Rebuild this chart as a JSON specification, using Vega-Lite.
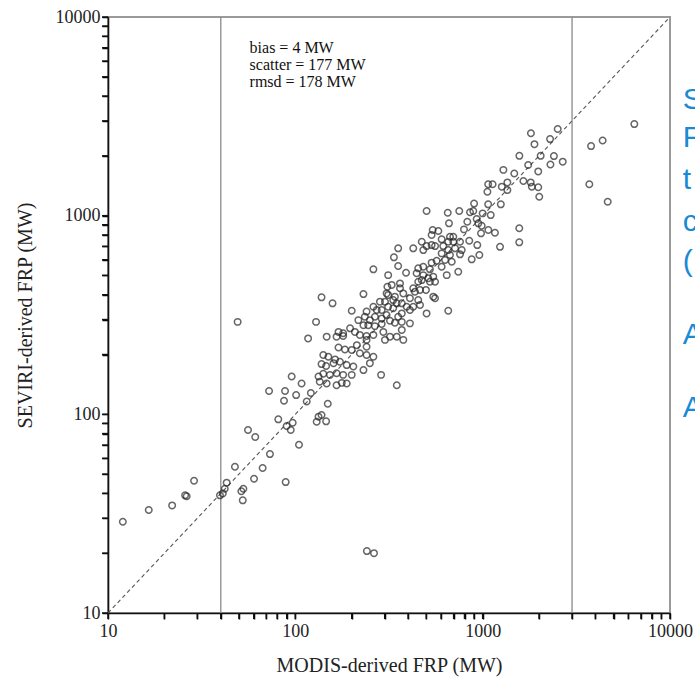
{
  "$schema": "https://vega.github.io/schema/vega-lite/v6.json",
  "width": 562,
  "height": 596,
  "autosize": {"type": "none"},
  "padding": {"left": 108, "top": 17, "right": 25, "bottom": 73},
  "background": "white",
  "config": {
    "view": {"stroke": "#9a9a9a", "strokeWidth": 2},
    "axis": {"grid": false, "labelFont": "Liberation Serif", "titleFont": "Liberation Serif", "labelFontSize": 18, "titleFontSize": 20, "titleFontWeight": "normal", "labelColor": "#222", "titleColor": "#222", "domainColor": "#111", "domainWidth": 1.6, "labelOverlap": false, "labelFlush": false}
  },
  "datasets": {
    "pts": [
      {"x":12,"y":28.8},{"x":16.5,"y":33},{"x":22,"y":34.8},{"x":25.8,"y":39.1},{"x":26.3,"y":38.7},{"x":28.8,"y":46.3},{"x":39.6,"y":39.1},{"x":41,"y":40},{"x":42,"y":42.2},{"x":43,"y":45.3},
      {"x":47.6,"y":54.5},{"x":51.5,"y":41},{"x":52.8,"y":42.2},{"x":52.4,"y":36.9},{"x":60.2,"y":47.4},{"x":66.9,"y":53.7},{"x":73.2,"y":63.1},{"x":55.9,"y":83.4},{"x":61.1,"y":76.9},{"x":88.8,"y":45.6},
      {"x":81.1,"y":94.4},{"x":72.4,"y":131},{"x":88.1,"y":131},{"x":87,"y":117},{"x":101,"y":125},{"x":89.9,"y":87.3},{"x":94.5,"y":83.4},{"x":96.8,"y":90.7},{"x":104.6,"y":70.3},{"x":115,"y":116},
      {"x":121,"y":128},{"x":108,"y":143},{"x":130,"y":91.8},{"x":133,"y":97.3},{"x":138,"y":99.2},{"x":146,"y":92.2},{"x":149,"y":113},{"x":166,"y":140},{"x":177,"y":144},{"x":135,"y":146},
      {"x":241,"y":20.5},{"x":263,"y":20},{"x":49.2,"y":292},
      {"x":6450,"y":2890},{"x":3790,"y":2240},{"x":4370,"y":2390},{"x":3710,"y":1440},{"x":4650,"y":1175},
      {"x":1810,"y":2600},{"x":2515,"y":2730},{"x":2290,"y":2430},{"x":1890,"y":2290},{"x":1570,"y":2000},{"x":2040,"y":2000},{"x":2400,"y":1995},{"x":1750,"y":1800},{"x":2300,"y":1810},{"x":2675,"y":1870},
      {"x":1290,"y":1700},{"x":1475,"y":1630},{"x":1980,"y":1670},{"x":1650,"y":1495},{"x":1070,"y":1440},{"x":1130,"y":1440},{"x":1265,"y":1400},{"x":1355,"y":1470},{"x":1355,"y":1345},{"x":1805,"y":1470},
      {"x":1830,"y":1400},{"x":1980,"y":1390},{"x":1060,"y":1320},{"x":2005,"y":1245},{"x":900,"y":1150},{"x":1070,"y":1140},{"x":1250,"y":1140},{"x":856,"y":1040},{"x":1000,"y":1027},{"x":1104,"y":1007},
      {"x":929,"y":962},{"x":988,"y":890},{"x":1072,"y":847},{"x":1163,"y":820},{"x":980,"y":815},{"x":1568,"y":864},{"x":1568,"y":734},{"x":502,"y":1055},{"x":651,"y":1034},{"x":750,"y":1055},
      {"x":891,"y":1055},{"x":661,"y":915},{"x":828,"y":932},{"x":948,"y":915},{"x":795,"y":853},{"x":541,"y":847},{"x":580,"y":837},{"x":534,"y":799},{"x":669,"y":783},{"x":697,"y":783},
      {"x":604,"y":760},{"x":848,"y":748},{"x":1238,"y":697},{"x":936,"y":711},{"x":473,"y":739},{"x":502,"y":703},{"x":534,"y":711},{"x":426,"y":685},{"x":482,"y":671},{"x":557,"y":703},
      {"x":616,"y":703},{"x":655,"y":739},{"x":697,"y":739},{"x":757,"y":739},{"x":712,"y":685},{"x":773,"y":671},{"x":655,"y":671},{"x":604,"y":646},{"x":669,"y":634},{"x":757,"y":639},
      {"x":354,"y":685},{"x":336,"y":617},{"x":354,"y":558},{"x":874,"y":603},{"x":960,"y":634},{"x":534,"y":580},{"x":568,"y":593},{"x":630,"y":598},{"x":684,"y":586},{"x":482,"y":553},
      {"x":523,"y":537},{"x":604,"y":553},{"x":453,"y":543},{"x":444,"y":513},{"x":482,"y":502},{"x":545,"y":493},{"x":643,"y":502},{"x":741,"y":522},{"x":313,"y":502},{"x":390,"y":516},
      {"x":261,"y":537},{"x":473,"y":474},{"x":513,"y":484},{"x":557,"y":465},{"x":310,"y":439},{"x":327,"y":448},{"x":362,"y":456},{"x":362,"y":431},{"x":313,"y":399},{"x":340,"y":391},
      {"x":231,"y":403},{"x":426,"y":431},{"x":435,"y":414},{"x":463,"y":423},{"x":498,"y":423},{"x":545,"y":391},{"x":283,"y":369},{"x":301,"y":369},{"x":348,"y":362},{"x":370,"y":362},
      {"x":313,"y":348},{"x":333,"y":342},{"x":393,"y":348},{"x":409,"y":335},{"x":289,"y":335},{"x":261,"y":348},{"x":272,"y":335},{"x":240,"y":329},{"x":502,"y":322},{"x":370,"y":322},
      {"x":354,"y":310},{"x":307,"y":316},{"x":289,"y":304},{"x":266,"y":310},{"x":250,"y":298},{"x":235,"y":310},{"x":217,"y":298},{"x":231,"y":281},{"x":245,"y":281},{"x":266,"y":278},
      {"x":289,"y":285},{"x":320,"y":296},{"x":340,"y":289},{"x":200,"y":332},{"x":138,"y":388},{"x":158,"y":362},{"x":129,"y":292},{"x":170,"y":260},{"x":180,"y":256},{"x":196,"y":271},
      {"x":208,"y":260},{"x":221,"y":251},{"x":240,"y":248},{"x":261,"y":251},{"x":295,"y":260},{"x":320,"y":246},{"x":147,"y":246},{"x":117,"y":241},{"x":170,"y":217},{"x":184,"y":212},
      {"x":200,"y":211},{"x":141,"y":199},{"x":150,"y":195},{"x":163,"y":189},{"x":138,"y":179},{"x":146,"y":175},{"x":160,"y":181},{"x":173,"y":184},{"x":188,"y":177},{"x":204,"y":174},
      {"x":133,"y":155},{"x":141,"y":160},{"x":153,"y":158},{"x":166,"y":161},{"x":180,"y":158},{"x":200,"y":158},{"x":95.6,"y":155},{"x":147,"y":143},{"x":213,"y":223},{"x":240,"y":219},
      {"x":221,"y":203},{"x":240,"y":199},{"x":261,"y":195},{"x":250,"y":181},{"x":231,"y":167},{"x":287,"y":158},{"x":348,"y":140},{"x":377,"y":237},{"x":348,"y":246},{"x":370,"y":266},
      {"x":301,"y":237},{"x":240,"y":237},{"x":377,"y":406},{"x":409,"y":384},{"x":453,"y":376},{"x":463,"y":355},{"x":426,"y":348},{"x":655,"y":332},{"x":409,"y":287},{"x":370,"y":292},
      {"x":557,"y":384},{"x":453,"y":465},{"x":523,"y":465},{"x":307,"y":406},{"x":333,"y":376},{"x":188,"y":143},{"x":166,"y":246},{"x":180,"y":248}
    ],
    "tickvals": [
      {"v":10},{"v":20},{"v":30},{"v":40},{"v":50},{"v":60},{"v":70},{"v":80},{"v":90},
      {"v":100},{"v":200},{"v":300},{"v":400},{"v":500},{"v":600},{"v":700},{"v":800},{"v":900},
      {"v":1000},{"v":2000},{"v":3000},{"v":4000},{"v":5000},{"v":6000},{"v":7000},{"v":8000},{"v":9000},{"v":10000}
    ],
    "vlines": [{"x": 40}, {"x": 3000}],
    "diag": [{"x": 10, "y": 10}, {"x": 10000, "y": 10000}],
    "stats": [{"x": 57, "y": 7000, "t": ["bias = 4 MW", "scatter = 177 MW", "rmsd = 178 MW"]}],
    "side": [
      {"x": 11700, "y": 3820, "t": "S"},
      {"x": 11700, "y": 2460, "t": "F"},
      {"x": 11700, "y": 1510, "t": "t"},
      {"x": 11700, "y": 929, "t": "c"},
      {"x": 11700, "y": 585, "t": "("},
      {"x": 11700, "y": 251, "t": "A"},
      {"x": 11700, "y": 108, "t": "A"}
    ]
  },
  "layer": [
    {
      "data": {"name": "vlines"},
      "mark": {"type": "rule", "color": "#8a8a8a", "strokeWidth": 1.3},
      "encoding": {
        "x": {"field": "x", "type": "quantitative", "scale": {"type": "log", "domain": [10, 10000], "nice": false},
          "axis": {"values": [10,20,30,40,50,60,70,80,90,100,200,300,400,500,600,700,800,900,1000,2000,3000,4000,5000,6000,7000,8000,9000,10000],
            "labelExpr": "(datum.value==10||datum.value==100||datum.value==1000||datum.value==10000) ? format(datum.value,'d') : ''",
            "ticks": true, "tickSize": 6, "tickWidth": 1.5, "tickColor": "#000",
            "labelPadding": 3, "title": "MODIS-derived FRP (MW)", "titlePadding": 15}}
      }
    },
    {
      "data": {"name": "diag"},
      "mark": {"type": "line", "color": "#555", "strokeWidth": 1.1, "strokeDash": [4, 3]},
      "encoding": {
        "x": {"field": "x", "type": "quantitative"},
        "y": {"field": "y", "type": "quantitative", "scale": {"type": "log", "domain": [10, 10000], "nice": false},
          "axis": {"values": [10,20,30,40,50,60,70,80,90,100,200,300,400,500,600,700,800,900,1000,2000,3000,4000,5000,6000,7000,8000,9000,10000],
            "labelExpr": "(datum.value==10||datum.value==100||datum.value==1000||datum.value==10000) ? format(datum.value,'d') : ''",
            "ticks": true, "tickSize": 6, "tickWidth": 1.5, "tickColor": "#000",
            "labelPadding": 2, "title": "SEVIRI-derived FRP (MW)", "titlePadding": 20}}
      }
    },
    {
      "data": {"name": "tickvals"},
      "mark": {"type": "rule", "color": "#111", "strokeWidth": 1.5},
      "encoding": {
        "x": {"field": "v", "type": "quantitative"},
        "y": {"datum": 10},
        "y2": {"datum": 9.33}
      }
    },
    {
      "data": {"name": "tickvals"},
      "mark": {"type": "rule", "color": "#111", "strokeWidth": 1.5},
      "encoding": {
        "y": {"field": "v", "type": "quantitative"},
        "x": {"datum": 10},
        "x2": {"datum": 9.29}
      }
    },
    {
      "data": {"name": "pts"},
      "mark": {"type": "point", "shape": "circle", "filled": false, "stroke": "#262626", "strokeWidth": 1.5, "size": 42},
      "encoding": {
        "x": {"field": "x", "type": "quantitative"},
        "y": {"field": "y", "type": "quantitative"}
      }
    },
    {
      "data": {"name": "stats"},
      "mark": {"type": "text", "align": "left", "baseline": "middle", "font": "Liberation Serif", "fontSize": 16, "lineHeight": 17, "color": "#111"},
      "encoding": {
        "x": {"field": "x", "type": "quantitative"},
        "y": {"field": "y", "type": "quantitative"},
        "text": {"field": "t"}
      }
    },
    {
      "data": {"name": "side"},
      "mark": {"type": "text", "align": "left", "baseline": "middle", "font": "Liberation Sans", "fontSize": 30, "color": "#1a8ad4"},
      "encoding": {
        "x": {"field": "x", "type": "quantitative"},
        "y": {"field": "y", "type": "quantitative"},
        "text": {"field": "t"}
      }
    }
  ]
}
